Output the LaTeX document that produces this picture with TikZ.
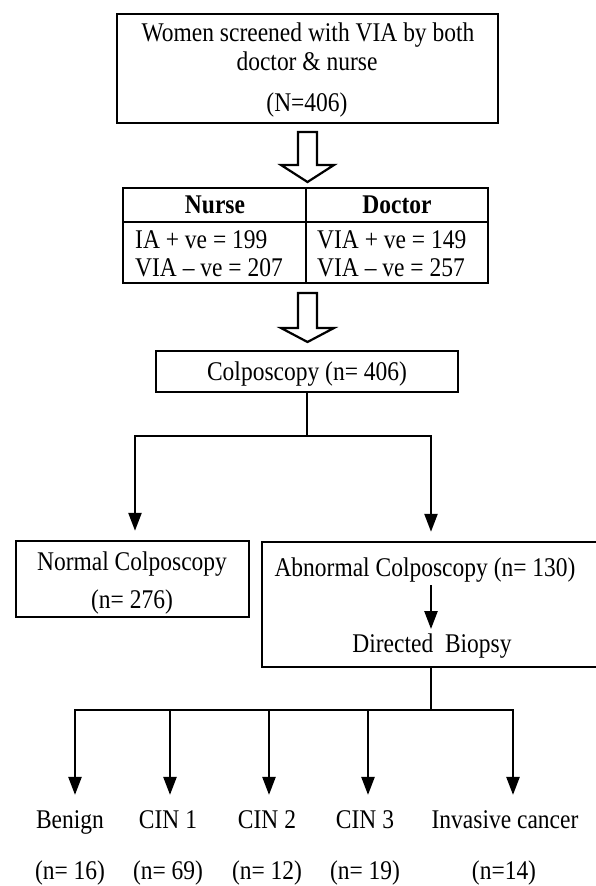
\documentclass[tikz,border=0pt]{standalone}
\usepackage{fontspec}
\setmainfont{Liberation Serif}[FakeStretch=0.87]
\usetikzlibrary{arrows.meta}
\begin{document}
\begin{tikzpicture}[x=1pt,y=-1pt,
  box/.style={draw, line width=2.4pt, inner sep=0pt, rectangle},
  txt/.style={anchor=base, inner sep=0pt, font=\fontsize{27}{31}\selectfont},
  ltxt/.style={txt, anchor=base west},
  conn/.style={line width=2.4pt, line join=miter},
  arr/.style={conn, -{Triangle[width=13pt,length=18pt]}},
  hollow/.style={draw, line width=2.2pt, fill=white, line join=miter}]
\useasboundingbox (0,0) rectangle (595,886);
\fill[white] (0,0) rectangle (595,886);

% top box
\node[box, minimum width=381pt, minimum height=109pt] (top) at (307.5,68.5) {};
\node[txt] (t1) at (308,41) {Women screened with VIA by both};
\node[txt] (t2) at (307,70) {doctor \& nurse};
\node[txt] (t3) at (307,111) {(N=406)};

% hollow arrow 1
\draw[hollow] (298,132) -- (317,132) -- (317,165) -- (334,165) -- (307.5,182) -- (281,165) -- (298,165) -- cycle;

% table
\node[box, minimum width=183pt, minimum height=34pt] (nh) at (214.5,205) {};
\node[box, minimum width=182pt, minimum height=34pt] (dh) at (397,205) {};
\node[box, minimum width=183pt, minimum height=61pt] (nb) at (214.5,252.5) {};
\node[box, minimum width=182pt, minimum height=61pt] (db) at (397,252.5) {};
\node[txt] (nht) at (215,213) {\textbf{Nurse}};
\node[txt] (dht) at (397,213) {\textbf{Doctor}};
\node[ltxt] (n1) at (135,248) {IA + ve = 199};
\node[ltxt] (n2) at (135,276) {VIA – ve = 207};
\node[ltxt] (d1) at (317,248) {VIA + ve = 149};
\node[ltxt] (d2) at (317,276) {VIA – ve = 257};

% hollow arrow 2
\draw[hollow] (298,293) -- (317,293) -- (317,328) -- (334,328) -- (307.5,342) -- (281,328) -- (298,328) -- cycle;

% colposcopy
\node[box, minimum width=302pt, minimum height=41pt] (colp) at (307,371.5) {};
\node[txt] (colpt) at (307,380) {Colposcopy (n= 406)};

\coordinate (j1) at (307,436);
\node[box, minimum width=233pt, minimum height=76pt] (normal) at (132.5,579) {};
\node[txt] (normt1) at (132,570) {Normal Colposcopy};
\node[txt] (normt2) at (132,608) {(n= 276)};
\node[box, minimum width=338pt, minimum height=125pt] (abn) at (431,604.5) {};
\node[txt] (abt) at (425,576) {Abnormal Colposcopy (n= 130)};
\node[txt] (dbt) at (432,652) {Directed\ \ Biopsy};

\draw[conn] (colp.south) -- (j1);
\draw[arr, shorten >=9pt] (j1) -| ([xshift=2.5pt]normal.north);
\draw[arr, shorten >=9pt] (j1) -| (abn.north);
\draw[arr, shorten <=3pt, shorten >=4pt] (abn.center |- abt.south) -- (abn.center |- dbt.north);

% bottom level
\coordinate (j2) at (431,710);
\coordinate (b1) at (75,710);
\coordinate (b2) at (170,710);
\coordinate (b3) at (269,710);
\coordinate (b4) at (368,710);
\coordinate (b5) at (513,710);
\node[txt] (ben) at (70,828) {Benign};
\node[txt] (c1) at (168,828) {CIN 1};
\node[txt] (c2) at (267,828) {CIN 2};
\node[txt] (c3) at (365,828) {CIN 3};
\node[txt] (inv) at (505,828) {Invasive cancer};
\node[txt] (nben) at (70,879) {(n= 16)};
\node[txt] (nc1) at (168,879) {(n= 69)};
\node[txt] (nc2) at (267,879) {(n= 12)};
\node[txt] (nc3) at (365,879) {(n= 19)};
\node[txt] (ninv) at (504,879) {(n=14)};

\draw[conn] (abn.south) -- (j2);
\draw[arr, shorten >=15pt] (j2) -| (b1 |- ben.north);
\draw[arr, shorten >=15pt] (j2) -| (b5 |- inv.north);
\draw[arr, shorten >=15pt] (b2) -- (b2 |- c1.north);
\draw[arr, shorten >=15pt] (b3) -- (b3 |- c2.north);
\draw[arr, shorten >=15pt] (b4) -- (b4 |- c3.north);
\end{tikzpicture}
\end{document}
